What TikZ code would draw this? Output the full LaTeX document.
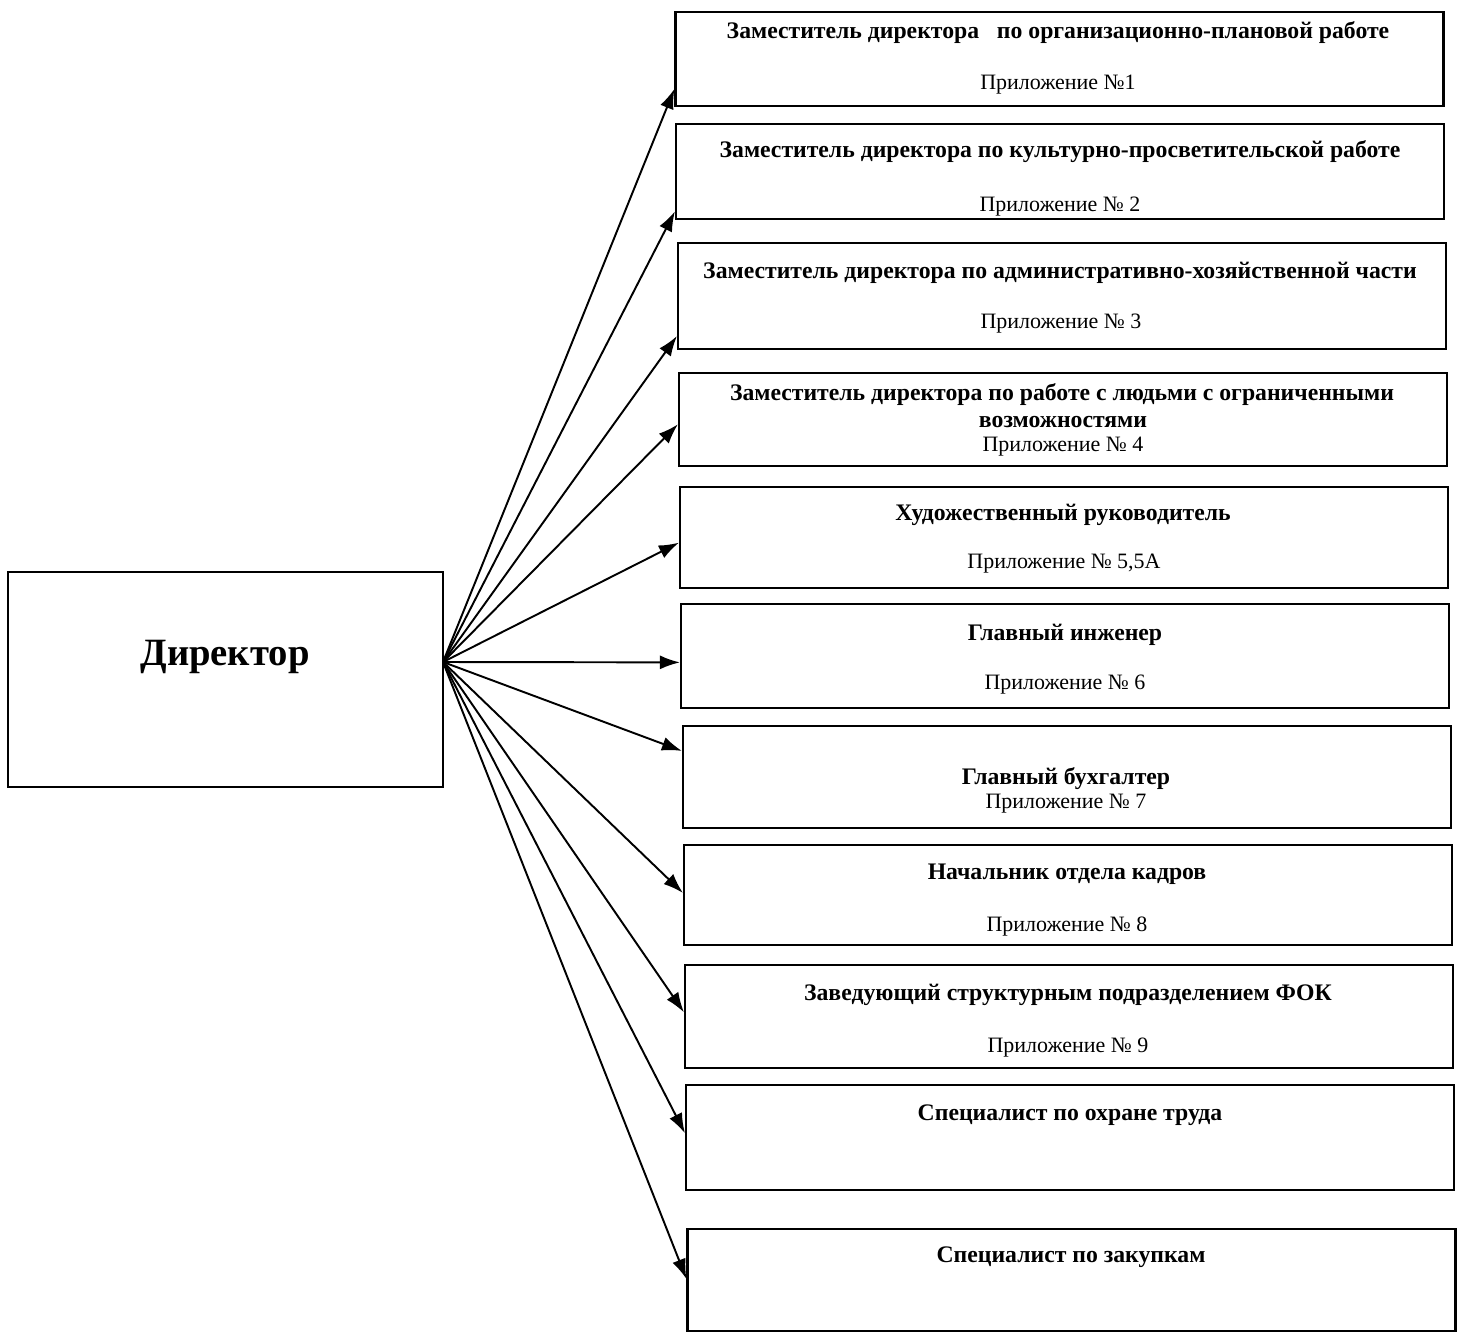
\documentclass[tikz,border=0pt]{standalone}
\usepackage{fontspec}
\setmainfont{Liberation Serif}
\usepackage{tikz}
\usetikzlibrary{arrows.meta,calc}

\tikzset{
  unit/.style={draw, line width=1.3pt, minimum width=15.36cm, inner sep=0pt},
  ttl/.style={font=\fontsize{13.5}{16}\selectfont\bfseries, inner sep=0pt},
  app/.style={font=\fontsize{12.5}{15}\selectfont, inner sep=0pt},
  link/.style={line width=1.1pt, -{Latex[length=0.4cm,width=0.28cm]}}
}

\begin{document}
\begin{tikzpicture}[x=0.02cm, y=-0.02cm]
  \useasboundingbox (0,0) rectangle (1462,1331);
  % director
  \node[draw, line width=1.3pt, minimum width=8.7cm, minimum height=4.3cm, inner sep=0pt] (dir) at (225.5,679.5) {};
  \node[font=\fontsize{22}{26}\selectfont\bfseries, inner sep=0pt] (dirt) at (225,657) {Директор};
  \coordinate (src) at (443,662);
  % subordinate units
  \node[unit, minimum height=1.88cm] (b1) at (1059.5,59) {};
  \node[ttl] (t1) at (1058,33) {Заместитель директора \ \ по организационно-плановой работе};
  \node[app] (a1) at (1058,85) {Приложение №1};
  \node[unit, minimum height=1.90cm] (b2) at (1060,171.5) {};
  \node[ttl] (t2) at (1060,152) {Заместитель директора по культурно-просветительской работе};
  \node[app] (a2) at (1060,207) {Приложение № 2};
  \node[unit, minimum height=2.12cm] (b3) at (1062,296) {};
  \node[ttl] (t3) at (1060,273) {Заместитель директора по административно-хозяйственной части};
  \node[app] (a3) at (1061,324) {Приложение № 3};
  \node[unit, minimum height=1.86cm] (b4) at (1063,419.5) {};
  \node[ttl] (t4) at (1062,395) {Заместитель директора по работе с людьми с ограниченными};
  \node[ttl] (t4b) at (1063,422) {возможностями};
  \node[app] (a4) at (1063,447) {Приложение № 4};
  \node[unit, minimum height=2.02cm] (b5) at (1064,537.5) {};
  \node[ttl] (t5) at (1063,515) {Художественный руководитель};
  \node[app] (a5) at (1064,564) {Приложение № 5,5А};
  \node[unit, minimum height=2.08cm] (b6) at (1065,656) {};
  \node[ttl] (t6) at (1065,635) {Главный инженер};
  \node[app] (a6) at (1065,685) {Приложение № 6};
  \node[unit, minimum height=2.04cm] (b7) at (1067,777) {};
  \node[ttl] (t7) at (1066,779) {Главный бухгалтер};
  \node[app] (a7) at (1066,804) {Приложение № 7};
  \node[unit, minimum height=2.00cm] (b8) at (1068,895) {};
  \node[ttl] (t8) at (1067,874) {Начальник отдела кадров};
  \node[app] (a8) at (1067,927) {Приложение № 8};
  \node[unit, minimum height=2.06cm] (b9) at (1069,1016.5) {};
  \node[ttl] (t9) at (1068,995) {Заведующий структурным подразделением ФОК};
  \node[app] (a9) at (1068,1048) {Приложение № 9};
  \node[unit, minimum height=2.10cm] (b10) at (1070,1137.5) {};
  \node[ttl] (t10) at (1070,1115) {Специалист по охране труда};
  \node[unit, minimum height=2.04cm] (b11) at (1071.5,1280) {};
  \node[ttl] (t11) at (1071,1257) {Специалист по закупкам};
  % arrows
  \foreach \b/\f in {b1/0.19, b2/0.09, b3/0.13, b4/0.45, b5/0.45, b6/0.44, b7/0.75, b8/0.52, b9/0.54, b10/0.54, b11/0.51}
    \draw[link] (src) -- ($(\b.south west)!\f!(\b.north west)$);
\end{tikzpicture}
\end{document}
